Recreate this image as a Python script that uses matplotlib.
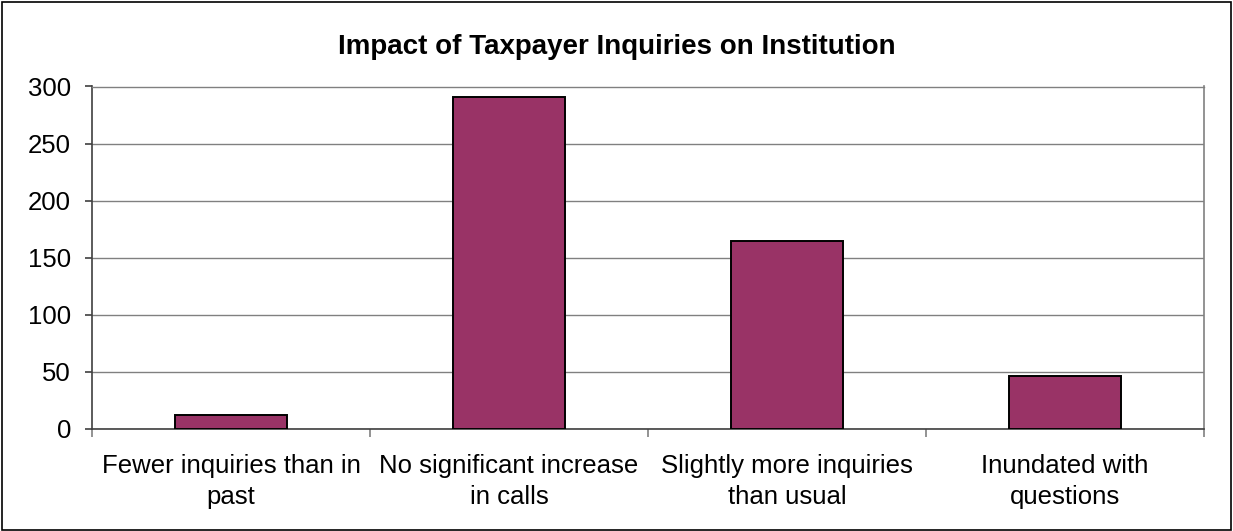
import matplotlib
matplotlib.use("Agg")
import matplotlib.pyplot as plt
import numpy as np

categories = ["Fewer inquiries than in\npast", "No significant increase\nin calls",
              "Slightly more inquiries\nthan usual", "Inundated with\nquestions"]
values = [12, 291, 165, 46]
yticks = [0, 50, 100, 150, 200, 250, 300]
title = "Impact of Taxpayer Inquiries on Institution"

plt.rcParams['font.family'] = ['Liberation Sans', 'DejaVu Sans']

fig = plt.figure(figsize=(12.33, 5.31), dpi=100)
fig.patches.append(plt.Rectangle((0.0015, 0.002), 0.997, 0.995, transform=fig.transFigure,
                                 fill=False, edgecolor='black', linewidth=1.2))
ax = fig.add_axes([92/1233, 1 - 429/531, (1204 - 92)/1233, (429 - 86.5)/531])

x = np.arange(len(categories))
ax.bar(x, values, width=0.4, color='#993366', edgecolor='black', linewidth=1.4, zorder=3)
ax.set_xlim(-0.5, len(categories) - 0.5)
ax.set_ylim(0, 300)
ax.set_yticks(yticks)
ax.set_yticklabels([str(v) for v in yticks], fontsize=18.5)
ax.yaxis.grid(True, color='#808080', linewidth=1.0, zorder=0)

ax.set_xticks(np.arange(-0.5, len(categories)), minor=False)
ax.set_xticklabels([''] * (len(categories) + 1))
ax.tick_params(axis='x', length=6, color='#808080', width=1.2)
ax.tick_params(axis='y', length=5, color='#404040', width=1.2, pad=10)
for i, c in enumerate(categories):
    ax.text(i, -22, c, ha='center', va='top', fontsize=18.5, linespacing=1.35)

ax.spines['top'].set_color('#808080')
ax.spines['top'].set_linewidth(1.0)
ax.spines['right'].set_color('#808080')
ax.spines['left'].set_color('#404040')
ax.spines['bottom'].set_color('#404040')
for s in ['left', 'bottom', 'right']:
    ax.spines[s].set_linewidth(1.2)

fig.text(0.5, 1 - 47 / 531, title, ha='center', va='center',
         fontsize=20, fontweight='bold')

fig.savefig("out.png", dpi=100)
